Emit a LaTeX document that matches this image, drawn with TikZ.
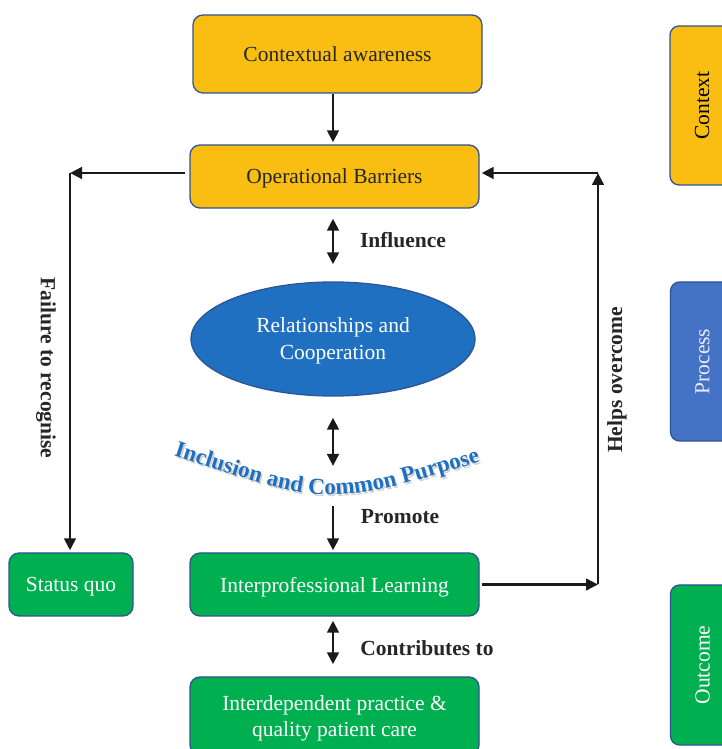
\documentclass[tikz,border=0pt]{standalone}
\usepackage{fontspec}
\setmainfont{Liberation Serif}
\usetikzlibrary{arrows.meta,shapes.geometric,decorations.text,calc}
\definecolor{ylw}{HTML}{FABE12}
\definecolor{grn}{HTML}{00AF4F}
\definecolor{bord}{HTML}{2F5496}
\definecolor{ellblue}{HTML}{1F70C1}
\definecolor{procblue}{HTML}{4472C4}
\definecolor{arr}{HTML}{1A1A1A}
\definecolor{curvblue}{HTML}{1F6FC0}
\begin{document}
\begin{tikzpicture}[x=1pt,y=1pt,
  box/.style={draw=bord,line width=1.3pt,rounded corners=10pt,minimum width=289pt,minimum height=63pt,inner sep=2pt,text depth=0pt,align=center,font=\fontsize{21.5}{26}\selectfont},
  ybox/.style={box,fill=ylw,text=black!85},
  gbox/.style={box,fill=grn,text=white},
  side/.style={draw=bord,line width=1.3pt,rounded corners=9pt,minimum width=64pt,minimum height=159pt,font=\fontsize{21.5}{24}\selectfont},
  arw/.style={draw=arr,line width=2.9pt,-{Triangle[length=12pt,width=11.5pt]}},
  dbl/.style={draw=arr,line width=2.9pt,{Triangle[length=12pt,width=11.5pt]}-{Triangle[length=12pt,width=11.5pt]}},
  lbl/.style={font=\bfseries\fontsize{21.5}{24}\selectfont,text=black!85}
]
\clip (0,0) rectangle (722,749);
\useasboundingbox (0,0) rectangle (722,749);
\fill[white] (0,0) rectangle (722,749);

% main nodes
\node[ybox,minimum height=78pt] (ctx) at (337.5,695) {Contextual awareness};
\node[ybox] (ob) at (334.5,572.5) {Operational Barriers};
\node[ellipse,draw=bord,line width=1.3pt,fill=ellblue,text=white,minimum width=284pt,minimum height=114pt,inner sep=0pt,text depth=0pt,align=center,font=\fontsize{21.5}{27}\selectfont] (ell) at (333,410) {Relationships and\\Cooperation};
\node[gbox] (il) at (334.5,164.5) {Interprofessional Learning};
\node[gbox,minimum width=124pt] (sq) at (71,164.5) {Status quo};
\node[gbox,minimum height=78pt] (idp) at (334.5,33) {Interdependent practice \&\\quality patient care};

% side nodes
\node[side,fill=ylw] (sctx) at (702,643.5) {\rotatebox{90}{Context}};
\node[side,fill=procblue,text=white!92!blue] (sproc) at (702.5,387.5) {\rotatebox{90}{Process}};
\node[side,fill=grn,text=white,minimum height=160pt] (sout) at (702.5,84) {\rotatebox{90}{Outcome}};

% helper coordinates
\coordinate (icp) at (333,268);
\coordinate (cl) at (70,576);
\coordinate (ctr) at (598,576);
\coordinate (cbr) at (598,164.5);

% vertical arrows
\draw[arw,shorten >=2pt] (ctx.south -| ell.center) -- (ob.north -| ell.center);
\draw[dbl,shorten <=10pt] (ob.south -| ell.center) -- ($(ell.north)+(0,17)$);
\draw[dbl,shorten <=21pt,shorten >=15pt] (ell.south) -- (icp);
\draw[arw,shorten <=25pt,shorten >=2pt] (icp) -- (il.north -| icp);
\draw[dbl,shorten <=4pt,shorten >=12pt] (il.south -| icp) -- (idp.north -| icp);

% side connectors
\draw[arw,shorten <=4pt] (ob.west |- cl) -- (cl);
\draw[arw,shorten >=2pt] (cl) -- (sq.north -| cl);
\draw[arw,shorten <=2pt] (il.east |- cbr) -- (cbr);
\draw[arw] (cbr) -- (ctr);
\draw[arw,shorten >=2pt] (ctr) -- (ob.east |- ctr);

% labels
\node[lbl] (l1) at (403,509) {Influence};
\node[lbl] (l2) at (400,232) {Promote};
\node[lbl] (l3) at (427,101) {Contributes to};
\node[lbl,rotate=-90] (l4) at (46,381) {Failure to recognise};
\node[lbl,rotate=90] (l5) at (617,369) {Helps overcome};

% curved text
\path[decorate,decoration={text along path,text align=center,
  text={|\bfseries\fontsize{23}{23}\selectfont\color{black!18}|Inclusion and Common Purpose}}]
  (173.5,292) .. controls (331.5,240) .. (483.5,286);
\path[decorate,decoration={text along path,text align=center,
  text={|\bfseries\fontsize{23}{23}\selectfont\color{curvblue}|Inclusion and Common Purpose}}]
  (172,294) .. controls (330,242) .. (482,288);
\end{tikzpicture}
\end{document}
